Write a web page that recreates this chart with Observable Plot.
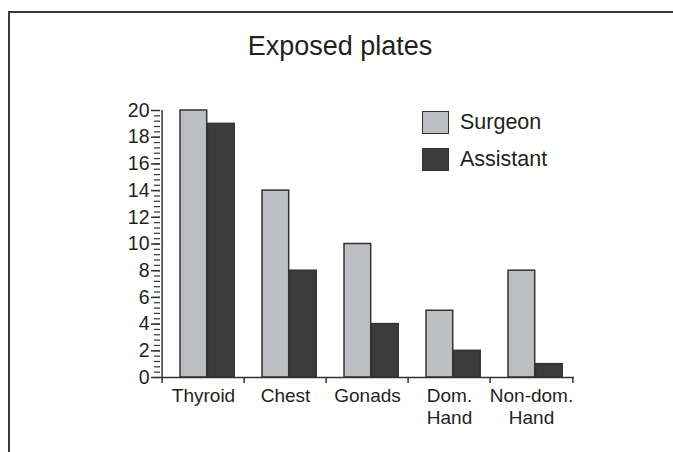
<!DOCTYPE html>
<html>
<head>
<meta charset="utf-8">
<script src="https://cdn.jsdelivr.net/npm/d3@7"></script>
<script src="https://cdn.jsdelivr.net/npm/@observablehq/plot@0.6"></script>
<style>
  html, body { margin: 0; padding: 0; background: #fff; }
  body { width: 673px; height: 452px; position: relative; overflow: hidden; font-family: "Liberation Sans", Arial, sans-serif; color: #231f20; }
  #frame { position: absolute; left: 8px; top: 11px; width: 680px; height: 460px; border-top: 2px solid #3a3a3a; border-left: 2px solid #3a3a3a; }
  #title { position: absolute; left: 0; width: 680px; top: 30px; text-align: center; font-size: 27px; line-height: 32px; }
  #chart { position: absolute; left: 0; top: 0; }
  .leg { position: absolute; left: 422px; font-size: 21.5px; line-height: 24px; display: flex; align-items: center; }
  .sw { width: 25px; height: 21px; border: 1.5px solid #333; margin-right: 11px; }
</style>
</head>
<body>
<div id="frame"></div>
<div id="title">Exposed plates</div>
<div id="chart"></div>
<div id="legend"></div>
<script>
const categories = ["Thyroid", "Chest", "Gonads", "Dom.\nHand", "Non-dom.\nHand"];
const surgeon = [20, 14, 10, 5, 8];
const assistant = [19, 8, 4, 2, 1];
const seriesNames = ["Surgeon", "Assistant"];
const seriesColors = ["#bdbec2", "#3c3c3c"];
const yTicks = [0, 2, 4, 6, 8, 10, 12, 14, 16, 18, 20];
const yMinorTicks = d3.range(0, 50).map(i => i * 0.4);

const W = 673, H = 452, mL = 160, mR = 99, mT = 110, mB = 75;
const band = (W - mL - mR) / categories.length;
const barW = 27.5, gapL = 18;

const surgeonData = categories.map((c, i) => ({category: c, value: surgeon[i]}));
const assistantData = categories.map((c, i) => ({category: c, value: assistant[i]}));

const plot = Plot.plot({
  width: W, height: H,
  marginLeft: mL, marginRight: mR, marginTop: mT, marginBottom: mB,
  style: {fontFamily: "Liberation Sans, Arial, sans-serif", fontSize: "19px", color: "#231f20", background: "transparent"},
  x: {domain: categories, padding: 0, axis: null, label: null},
  y: {domain: [0, 20], axis: null, label: null},
  marks: [
    Plot.barY(surgeonData, {x: "category", y: "value", fill: seriesColors[0], stroke: "#333", strokeWidth: 1.5,
      insetLeft: gapL, insetRight: band - gapL - barW}),
    Plot.barY(assistantData, {x: "category", y: "value", fill: seriesColors[1], stroke: "#333", strokeWidth: 1.5,
      insetLeft: gapL + barW, insetRight: band - gapL - 2 * barW}),
    // y axis
    Plot.axisY({ticks: yMinorTicks, tickSize: 6, tickFormat: () => "", label: null, stroke: "#333", strokeWidth: 1.2}),
    Plot.axisY({ticks: yTicks, tickSize: 9, tickPadding: 2, fontSize: 19.5, label: null, stroke: "#333", strokeWidth: 1.5, fill: "#231f20"}),
    Plot.ruleX(categories.slice(0, 1), {x: d => d, dx: -band / 2, y1: 0, y2: 20, stroke: "#333", strokeWidth: 1.5}),
    // x axis
    Plot.ruleY([0], {stroke: "#333", strokeWidth: 1.5}),
    Plot.axisX({ticks: categories, tickSize: 6, tickFormat: () => "", label: null, dx: -band / 2, stroke: "#333", strokeWidth: 1.5}),
    Plot.axisX({ticks: categories.slice(-1), tickSize: 6, tickFormat: () => "", label: null, dx: band / 2, stroke: "#333", strokeWidth: 1.5}),
    Plot.axisX({ticks: categories, tickSize: 0, tickPadding: 8, fontSize: 19, lineHeight: 1.2, label: null, fill: "#231f20"})
  ]
});
document.getElementById("chart").appendChild(plot);

const legend = document.getElementById("legend");
seriesNames.forEach((name, i) => {
  const row = document.createElement("div");
  row.className = "leg";
  row.style.top = (110 + i * 37) + "px";
  const sw = document.createElement("div");
  sw.className = "sw";
  sw.style.background = seriesColors[i];
  row.appendChild(sw);
  const t = document.createElement("span");
  t.textContent = name;
  row.appendChild(t);
  legend.appendChild(row);
});
</script>
</body>
</html>
